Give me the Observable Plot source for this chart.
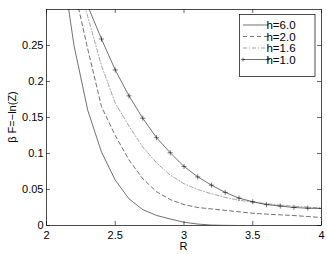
<!DOCTYPE html>
<html><head><meta charset="utf-8">
<script src="https://cdn.jsdelivr.net/npm/d3@7"></script>
<script src="https://cdn.jsdelivr.net/npm/@observablehq/plot@0.6"></script>
<style>body{margin:0;background:#fff} svg{display:block}</style>
</head><body><div id="chart"></div>
<script>
const R = [2.0,2.1,2.2,2.3,2.4,2.5,2.6,2.7,2.8,2.9,3.0,3.1,3.2,3.3,3.4,3.5,3.6,3.7,3.8,3.9,4.0];
const h60 = [0.55,0.38,0.25,0.16,0.102,0.063,0.037,0.022,0.014,0.009,0.0045,0.002,0.0006,0.0002,0,0,0,0,0,0,0];
const h20 = [0.6,0.45,0.33,0.245,0.165,0.125,0.091,0.065,0.047,0.036,0.029,0.025,0.023,0.021,0.019,0.017,0.0158,0.0148,0.0138,0.0125,0.011];
const h16 = [0.55,0.44,0.36,0.29,0.222,0.170,0.138,0.109,0.087,0.070,0.058,0.050,0.044,0.039,0.035,0.0325,0.0303,0.0283,0.0267,0.0255,0.0245];
const h10 = [0.5,0.43,0.365,0.305,0.259,0.216,0.18,0.149,0.122,0.101,0.082,0.0675,0.056,0.046,0.038,0.033,0.029,0.027,0.025,0.024,0.0236];
const seriesNames = ["h=6.0","h=2.0","h=1.6","h=1.0"];
const xTicks = [2,2.5,3,3.5,4];
const yTicks = [0,0.05,0.1,0.15,0.2,0.25];
const xLabel = "R";
const yLabel = "β F=−ln(Z)";

const W = 327, H = 254, mL = 46, mR = 6, mT = 9, mB = 29;
const plotH = H - mT - mB, plotW = W - mL - mR;
const rows = s => R.map((r, i) => ({r, v: s[i]}));
const styles = [
  {dash: null, color: "#111"},
  {dash: "4,3", color: "#111"},
  {dash: "4,2,1,2", color: "#666"},
  {dash: null, color: "#111"}
];
const all = [h60, h20, h16, h10];
const lw = 0.6;

const marks = [];
all.forEach((s, k) => {
  marks.push(Plot.line(rows(s), {x: "r", y: "v", stroke: styles[k].color, strokeWidth: lw, strokeDasharray: styles[k].dash, clip: true}));
});
marks.push(Plot.dot(rows(h10), {x: "r", y: "v", symbol: "plus", r: 1.8, stroke: "#111", strokeWidth: 0.55, clip: true}));
marks.push(Plot.tickX(xTicks, {x: d => d, insetTop: plotH - 4, stroke: "#000", strokeWidth: lw}));
marks.push(Plot.tickX(xTicks, {x: d => d, insetBottom: plotH - 4, stroke: "#000", strokeWidth: lw}));
marks.push(Plot.tickY(yTicks, {y: d => d, insetRight: plotW - 4, stroke: "#000", strokeWidth: lw}));
marks.push(Plot.tickY(yTicks, {y: d => d, insetLeft: plotW - 4, stroke: "#000", strokeWidth: lw}));
marks.push(Plot.frame({stroke: "#000", strokeWidth: 0.7}));
marks.push(Plot.axisX({ticks: xTicks, tickSize: 0, tickPadding: 6, tickFormat: d => String(d), label: null, fontSize: 11}));
marks.push(Plot.axisY({ticks: yTicks, tickSize: 0, tickPadding: 3, tickFormat: d => String(d), label: null, fontSize: 11}));

const chart = Plot.plot({
  width: W, height: H, marginLeft: mL, marginRight: mR, marginTop: mT, marginBottom: mB,
  style: {fontFamily: "'Liberation Sans', Arial, sans-serif", fontSize: "11px", color: "#000", background: "#fff"},
  x: {domain: [2, 4]},
  y: {domain: [0, 0.3]},
  marks
});
document.getElementById("chart").appendChild(chart);

const svg = d3.select(chart);
const font = "'Liberation Sans', Arial, sans-serif";
svg.append("text").attr("x", mL + plotW / 2).attr("y", 250).attr("text-anchor", "middle")
  .attr("font-family", font).attr("font-size", 11).attr("fill", "#000").text(xLabel);
svg.append("text").attr("transform", `translate(16,${mT + plotH / 2}) rotate(-90)`).attr("text-anchor", "middle")
  .attr("font-family", font).attr("font-size", 11).attr("fill", "#000").text(yLabel);

// legend
const lg = svg.append("g");
lg.append("rect").attr("x", 239.5).attr("y", 14.5).attr("width", 75.5).attr("height", 62)
  .attr("fill", "#fff").attr("stroke", "#000").attr("stroke-width", 0.7);
const rowY = [25, 36.5, 48, 59.5];
seriesNames.forEach((name, k) => {
  const y = rowY[k];
  lg.append("line").attr("x1", 243).attr("x2", 268).attr("y1", y).attr("y2", y)
    .attr("stroke", styles[k].color).attr("stroke-width", lw)
    .attr("stroke-dasharray", styles[k].dash);
  if (k === 3) {
    [243, 268].forEach(x => {
      lg.append("path").attr("d", `M${x-2},${y}h4M${x},${y-2}v4`).attr("stroke", "#111").attr("stroke-width", 0.55);
    });
  }
  lg.append("text").attr("x", 281).attr("y", y + 4).attr("font-family", font).attr("font-size", 11.5)
    .attr("fill", "#000").text(name);
});
</script>
</body></html>
